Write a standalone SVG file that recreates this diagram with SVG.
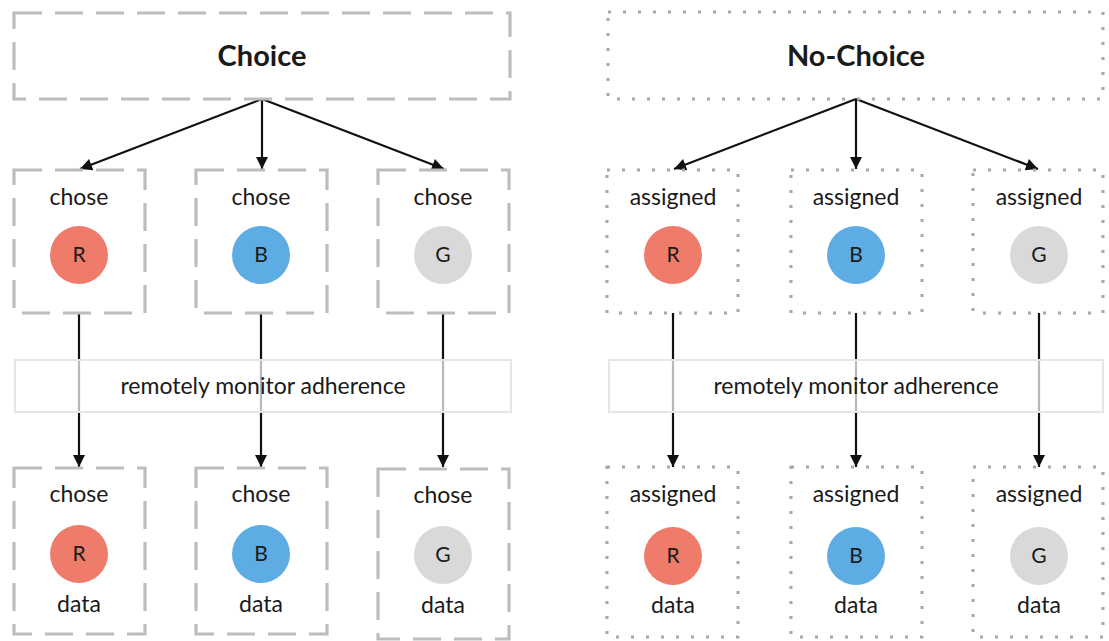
<svg xmlns="http://www.w3.org/2000/svg" width="1109" height="641" viewBox="0 0 1109 641">
<style>
.dash{fill:none;stroke:#bdbdbd;stroke-width:3.2;stroke-dasharray:28 13}
.dot{fill:none;stroke:#a8a8a8;stroke-width:3;stroke-dasharray:3 12}
.t{font-family:Lato,"Liberation Sans",sans-serif;fill:#1a1a1a;text-anchor:middle}
.h{font-size:29px;font-weight:bold}
.l{font-size:23px}
.c{font-size:21px}
.band{fill:#ffffff;fill-opacity:0.7;stroke:#e6e6e6;stroke-width:2}
.arr{stroke:#111;stroke-width:2.2;fill:none;marker-end:url(#ah)}
.R{fill:#ef7b6b}.B{fill:#5dace3}.G{fill:#d9d9d9}
</style>
<defs>
<marker id="ah" viewBox="0 0 10 10" refX="10" refY="5" markerWidth="13" markerHeight="12" markerUnits="userSpaceOnUse" orient="auto">
<path d="M0,0 L10,5 L0,10 z" fill="#111"/>
</marker>
</defs>
<rect width="1109" height="641" fill="#fff"/>

<g id="connectors">
<line class="arr" x1="262" y1="99" x2="80" y2="169"/>
<line class="arr" x1="262" y1="99" x2="262" y2="169"/>
<line class="arr" x1="262" y1="99" x2="444" y2="169"/>
<line class="arr" x1="79" y1="313" x2="79" y2="467"/>
<line class="arr" x1="261" y1="313" x2="261" y2="467"/>
<line class="arr" x1="443" y1="313" x2="443" y2="467"/>
<line class="arr" x1="856" y1="99" x2="674" y2="169"/>
<line class="arr" x1="856" y1="99" x2="856" y2="169"/>
<line class="arr" x1="856" y1="99" x2="1038" y2="169"/>
<line class="arr" x1="673" y1="313" x2="673" y2="467"/>
<line class="arr" x1="856" y1="313" x2="856" y2="467"/>
<line class="arr" x1="1039" y1="313" x2="1039" y2="467"/>
</g>

<g id="choice">
<rect class="dash" x="14" y="13" width="496" height="86"/>
<text class="t h" x="262" y="66">Choice</text>
</g>
<g id="nochoice">
<rect class="dot" x="608" y="12" width="495" height="87"/>
<text class="t h" x="856" y="66">No-Choice</text>
</g>

<g id="choice-R-top">
<rect class="dash" x="14" y="170" width="131" height="143"/>
<text class="t l" x="79" y="205">chose</text>
<circle class="R" cx="79" cy="255" r="29"/>
<text class="t c" x="79" y="262">R</text>
</g>
<g id="choice-B-top">
<rect class="dash" x="196" y="170" width="131" height="143"/>
<text class="t l" x="261" y="205">chose</text>
<circle class="B" cx="261" cy="255" r="29"/>
<text class="t c" x="261" y="262">B</text>
</g>
<g id="choice-G-top">
<rect class="dash" x="378" y="170" width="131" height="143"/>
<text class="t l" x="443" y="205">chose</text>
<circle class="G" cx="443" cy="255" r="29"/>
<text class="t c" x="443" y="262">G</text>
</g>

<g id="nochoice-R-top">
<rect class="dot" x="607" y="170" width="131" height="143"/>
<text class="t l" x="673" y="205">assigned</text>
<circle class="R" cx="673" cy="255" r="29"/>
<text class="t c" x="673" y="262">R</text>
</g>
<g id="nochoice-B-top">
<rect class="dot" x="791" y="170" width="131" height="143"/>
<text class="t l" x="856" y="205">assigned</text>
<circle class="B" cx="856" cy="255" r="29"/>
<text class="t c" x="856" y="262">B</text>
</g>
<g id="nochoice-G-top">
<rect class="dot" x="973" y="170" width="130" height="143"/>
<text class="t l" x="1039" y="205">assigned</text>
<circle class="G" cx="1039" cy="255" r="29"/>
<text class="t c" x="1039" y="262">G</text>
</g>

<g id="band-left">
<rect class="band" x="15" y="360" width="496" height="52"/>
<text class="t l" x="263" y="394">remotely monitor adherence</text>
</g>
<g id="band-right">
<rect class="band" x="609" y="360" width="494" height="52"/>
<text class="t l" x="856" y="394">remotely monitor adherence</text>
</g>

<g id="choice-R-bottom">
<rect class="dash" x="14" y="468" width="131" height="166"/>
<text class="t l" x="79" y="502">chose</text>
<circle class="R" cx="79" cy="554" r="29"/>
<text class="t c" x="79" y="561">R</text>
<text class="t l" x="79" y="612">data</text>
</g>
<g id="choice-B-bottom">
<rect class="dash" x="196" y="468" width="131" height="166"/>
<text class="t l" x="261" y="502">chose</text>
<circle class="B" cx="261" cy="554" r="29"/>
<text class="t c" x="261" y="561">B</text>
<text class="t l" x="261" y="612">data</text>
</g>
<g id="choice-G-bottom">
<rect class="dash" x="378" y="469" width="131" height="170"/>
<text class="t l" x="443" y="503">chose</text>
<circle class="G" cx="443" cy="555" r="29"/>
<text class="t c" x="443" y="562">G</text>
<text class="t l" x="443" y="613">data</text>
</g>

<g id="nochoice-R-bottom">
<rect class="dot" x="607" y="467" width="131" height="170"/>
<text class="t l" x="673" y="502">assigned</text>
<circle class="R" cx="673" cy="556" r="29"/>
<text class="t c" x="673" y="563">R</text>
<text class="t l" x="673" y="613">data</text>
</g>
<g id="nochoice-B-bottom">
<rect class="dot" x="791" y="467" width="131" height="170"/>
<text class="t l" x="856" y="502">assigned</text>
<circle class="B" cx="856" cy="556" r="29"/>
<text class="t c" x="856" y="563">B</text>
<text class="t l" x="856" y="613">data</text>
</g>
<g id="nochoice-G-bottom">
<rect class="dot" x="973" y="467" width="130" height="170"/>
<text class="t l" x="1039" y="502">assigned</text>
<circle class="G" cx="1039" cy="556" r="29"/>
<text class="t c" x="1039" y="563">G</text>
<text class="t l" x="1039" y="613">data</text>
</g>
</svg>
